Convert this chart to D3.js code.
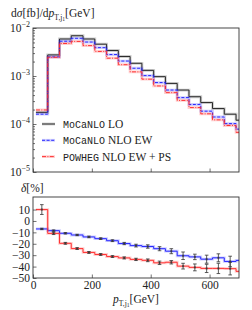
<!DOCTYPE html>
<html>
<head>
<meta charset="utf-8">
<script src="https://cdn.jsdelivr.net/npm/d3@7"></script>
<style>
  body { margin: 0; background: #fff; }
  svg { display: block; }
  text { font-family: "Liberation Serif", serif; fill: #222; }
  .mono { font-family: "Liberation Mono", "DejaVu Sans Mono", monospace; }
</style>
</head>
<body>
<div id="chart"></div>
<script>
// bin edges in GeV (last bin runs past the axis limit)
const binEdges = [10, 50, 90, 130, 170, 210, 250, 290, 330, 370, 410, 450, 490, 530, 570, 610, 650, 690, 730];
// dsigma/dpT [fb/GeV]
const loValues = [1.75e-4, 2.75e-3, 5.9e-3, 6.9e-3, 5.9e-3, 4.6e-3, 3.4e-3, 2.55e-3, 1.84e-3, 1.31e-3, 9.7e-4, 7.0e-4, 5.1e-4, 3.7e-4, 2.8e-4, 2.1e-4, 1.6e-4, 1.2e-4];
const nloValues = [1.6e-4, 2.5e-3, 5.3e-3, 6.1e-3, 5.1e-3, 3.9e-3, 2.8e-3, 2.05e-3, 1.45e-3, 1.02e-3, 7.3e-4, 5.1e-4, 3.55e-4, 2.55e-4, 1.85e-4, 1.4e-4, 1.02e-4, 7.8e-5];
const psValues = [1.96e-4, 2.45e-3, 4.75e-3, 5.25e-3, 4.3e-3, 3.25e-3, 2.35e-3, 1.72e-3, 1.22e-3, 8.6e-4, 6.2e-4, 4.5e-4, 3.1e-4, 2.2e-4, 1.63e-4, 1.22e-4, 9.3e-5, 6.7e-5];
// relative corrections delta [%] and their errors
const deltaNlo = [-7, -8.5, -10.8, -12.3, -14, -15.5, -17.3, -19.8, -21.6, -22.4, -24.3, -26.5, -30.5, -31.5, -33.5, -32.3, -35.5, -34.6];
const errNlo = [0.6, 0.6, 0.6, 0.6, 0.7, 0.7, 0.8, 1, 1.2, 1.5, 1.8, 2.2, 3.3, 2.4, 3.5, 3.5, 4.6, 4.6];
const deltaPs = [10, -10.9, -19.6, -24.2, -27.6, -29.4, -31.2, -32.4, -33.7, -34.5, -36.7, -36.2, -39.6, -40.7, -41.6, -41.6, -41.8, -44.2];
const errPs = [4.3, 1, 0.8, 0.8, 0.8, 0.8, 0.8, 0.9, 1, 1.2, 1.5, 1.5, 2.5, 3, 3.6, 4.5, 5.5, 5.5];
const xTicks = [0, 200, 400, 600];
const ratioTicks = [10, 0, -10, -20, -30, -40, -50];

const width = 252, height = 310;
const left = 33, right = 239;
const topY0 = 28, topY1 = 172;
const botY0 = 197, botY1 = 278;

const svg = d3.select("#chart").append("svg")
    .attr("width", width)
    .attr("height", height);

const x = d3.scaleLinear().domain([0, 700]).range([left, right]);
const yTop = d3.scaleLog().domain([1e-5, 1e-2]).range([topY1, topY0]);
const yBot = d3.scaleLinear().domain([-50, 21]).range([botY1, botY0]);

svg.append("defs").append("clipPath").attr("id", "clipTop")
    .append("rect").attr("x", left).attr("y", topY0).attr("width", right - left).attr("height", topY1 - topY0);
svg.select("defs").append("clipPath").attr("id", "clipBot")
    .append("rect").attr("x", left).attr("y", botY0).attr("width", right - left).attr("height", botY1 - botY0);

function stepPoints(vals) {
    const pts = vals.map((v, i) => [binEdges[i], v]);
    pts.push([binEdges[vals.length], vals[vals.length - 1]]);
    return pts;
}

function drawStep(g, y, vals, color, dash) {
    const line = d3.line().x(d => x(d[0])).y(d => y(d[1])).curve(d3.curveStepAfter);
    // light band behind
    g.append("path")
        .attr("d", line(stepPoints(vals)))
        .attr("fill", "none")
        .attr("stroke", color)
        .attr("stroke-opacity", 0.22)
        .attr("stroke-width", 2.8);
    g.append("path")
        .attr("d", line(stepPoints(vals)))
        .attr("fill", "none")
        .attr("stroke", color)
        .attr("stroke-width", 0.95)
        .attr("stroke-dasharray", dash);
}

// ---- top panel
const gTop = svg.append("g").attr("clip-path", "url(#clipTop)");
drawStep(gTop, yTop, loValues, "#222", null);
drawStep(gTop, yTop, nloValues, "#2222ff", "3,1.6");
drawStep(gTop, yTop, psValues, "#ff2a2a", "4,1.4,1,1.4");

// ---- bottom panel
const gBot = svg.append("g").attr("clip-path", "url(#clipBot)");
drawStep(gBot, yBot, deltaNlo, "#2222ff", null);
drawStep(gBot, yBot, deltaPs, "#ff2a2a", null);

function drawErrors(vals, errs) {
    vals.forEach((v, i) => {
        const cx = x((binEdges[i] + binEdges[i + 1]) / 2);
        if (cx > right) return;
        const ya = yBot(v - errs[i]), yb = yBot(v + errs[i]);
        gBot.append("line").attr("x1", cx).attr("x2", cx).attr("y1", ya).attr("y2", yb)
            .attr("stroke", "#333").attr("stroke-width", 0.8);
        [ya, yb].forEach(yy => gBot.append("line")
            .attr("x1", cx - 1.8).attr("x2", cx + 1.8).attr("y1", yy).attr("y2", yy)
            .attr("stroke", "#333").attr("stroke-width", 0.8));
        gBot.append("rect").attr("x", cx - 1).attr("y", yBot(v) - 1)
            .attr("width", 2).attr("height", 2).attr("fill", "#333").attr("fill-opacity", 0.7);
    });
}
drawErrors(deltaNlo, errNlo);
drawErrors(deltaPs, errPs);

// ---- axes
const supMinus = "\u2212";
const gyTop = svg.append("g").attr("transform", `translate(${left},0)`)
    .call(d3.axisLeft(yTop).tickValues(yTop.ticks()).tickSize(-2).tickFormat(""));
gyTop.selectAll(".tick line")
    .filter(d => Math.abs(Math.log10(d) - Math.round(Math.log10(d))) < 1e-6)
    .attr("x2", 3.5);
[1e-2, 1e-3, 1e-4, 1e-5].forEach(v => {
    const t = svg.append("text")
        .attr("x", left - 3)
        .attr("y", yTop(v) + 4)
        .attr("text-anchor", "end")
        .attr("font-size", 11.5);
    t.append("tspan").text("10");
    t.append("tspan").attr("dy", -5).attr("font-size", 8).text(supMinus + Math.round(-Math.log10(v)));
});
svg.append("g").attr("transform", `translate(0,${topY1})`)
    .call(d3.axisBottom(x).tickValues(xTicks).tickSize(-3.5).tickFormat(""));

const gyBot = svg.append("g").attr("transform", `translate(${left},0)`)
    .call(d3.axisLeft(yBot).tickValues(ratioTicks).tickSize(-3.5).tickPadding(3)
        .tickFormat(d => d < 0 ? supMinus + (-d) : d));
gyBot.selectAll("text").attr("font-size", 11.5).attr("font-family", "Liberation Serif, serif");
const gxBot = svg.append("g").attr("transform", `translate(0,${botY1})`)
    .call(d3.axisBottom(x).tickValues(xTicks).tickSize(-3.5).tickPadding(3));
gxBot.selectAll("text").attr("font-size", 11.5).attr("font-family", "Liberation Serif, serif");

svg.selectAll(".domain").remove();
svg.selectAll(".tick line").attr("stroke", "#333").attr("stroke-width", 0.7);
svg.selectAll(".tick text").attr("fill", "#222");

// frames
[[topY0, topY1], [botY0, botY1]].forEach(([a, b]) => {
    svg.append("rect").attr("x", left).attr("y", a).attr("width", right - left).attr("height", b - a)
        .attr("fill", "none").attr("stroke", "#333").attr("stroke-width", 0.9);
});

// ---- labels
const title = svg.append("text").attr("x", 11).attr("y", 17).attr("font-size", 11.5);
title.append("tspan").text("d");
title.append("tspan").attr("font-style", "italic").text("σ");
title.append("tspan").text("[fb]/d");
title.append("tspan").attr("font-style", "italic").text("p");
title.append("tspan").attr("dy", 2.5).attr("font-size", 7.5).text("T,j");
title.append("tspan").attr("dy", 1.5).attr("font-size", 5.5).text("1");
title.append("tspan").attr("dy", -4).text("[GeV]");

const dl = svg.append("text").attr("x", 21).attr("y", 192).attr("font-size", 11.5);
dl.append("tspan").attr("font-style", "italic").text("δ");
dl.append("tspan").text("[%]");

const xl = svg.append("text").attr("x", 136).attr("y", 303).attr("font-size", 11.5).attr("text-anchor", "middle");
xl.append("tspan").attr("font-style", "italic").text("p");
xl.append("tspan").attr("dy", 2.5).attr("font-size", 7.5).text("T,j");
xl.append("tspan").attr("dy", 1.5).attr("font-size", 5.5).text("1");
xl.append("tspan").attr("dy", -4).text("[GeV]");

// ---- legend
const legend = [
    { mono: "MoCaNLO", rest: " LO", color: "#222", dash: null },
    { mono: "MoCaNLO", rest: " NLO EW", color: "#2222ff", dash: "3,1.6" },
    { mono: "POWHEG", rest: " NLO EW + PS", color: "#ff2a2a", dash: "4,1.4,1,1.4" },
];
legend.forEach((d, i) => {
    const yy = 124 + i * 16.3;
    svg.append("line").attr("x1", 42).attr("x2", 55).attr("y1", yy).attr("y2", yy)
        .attr("stroke", d.color).attr("stroke-opacity", 0.22).attr("stroke-width", 2.8);
    svg.append("line").attr("x1", 42).attr("x2", 55).attr("y1", yy).attr("y2", yy)
        .attr("stroke", d.color).attr("stroke-width", 0.95).attr("stroke-dasharray", d.dash);
    const t = svg.append("text").attr("x", 63).attr("y", yy + 4).attr("font-size", 11.5);
    t.append("tspan").attr("class", "mono").attr("font-size", 10).text(d.mono);
    t.append("tspan").text(d.rest);
});
</script>
</body>
</html>
